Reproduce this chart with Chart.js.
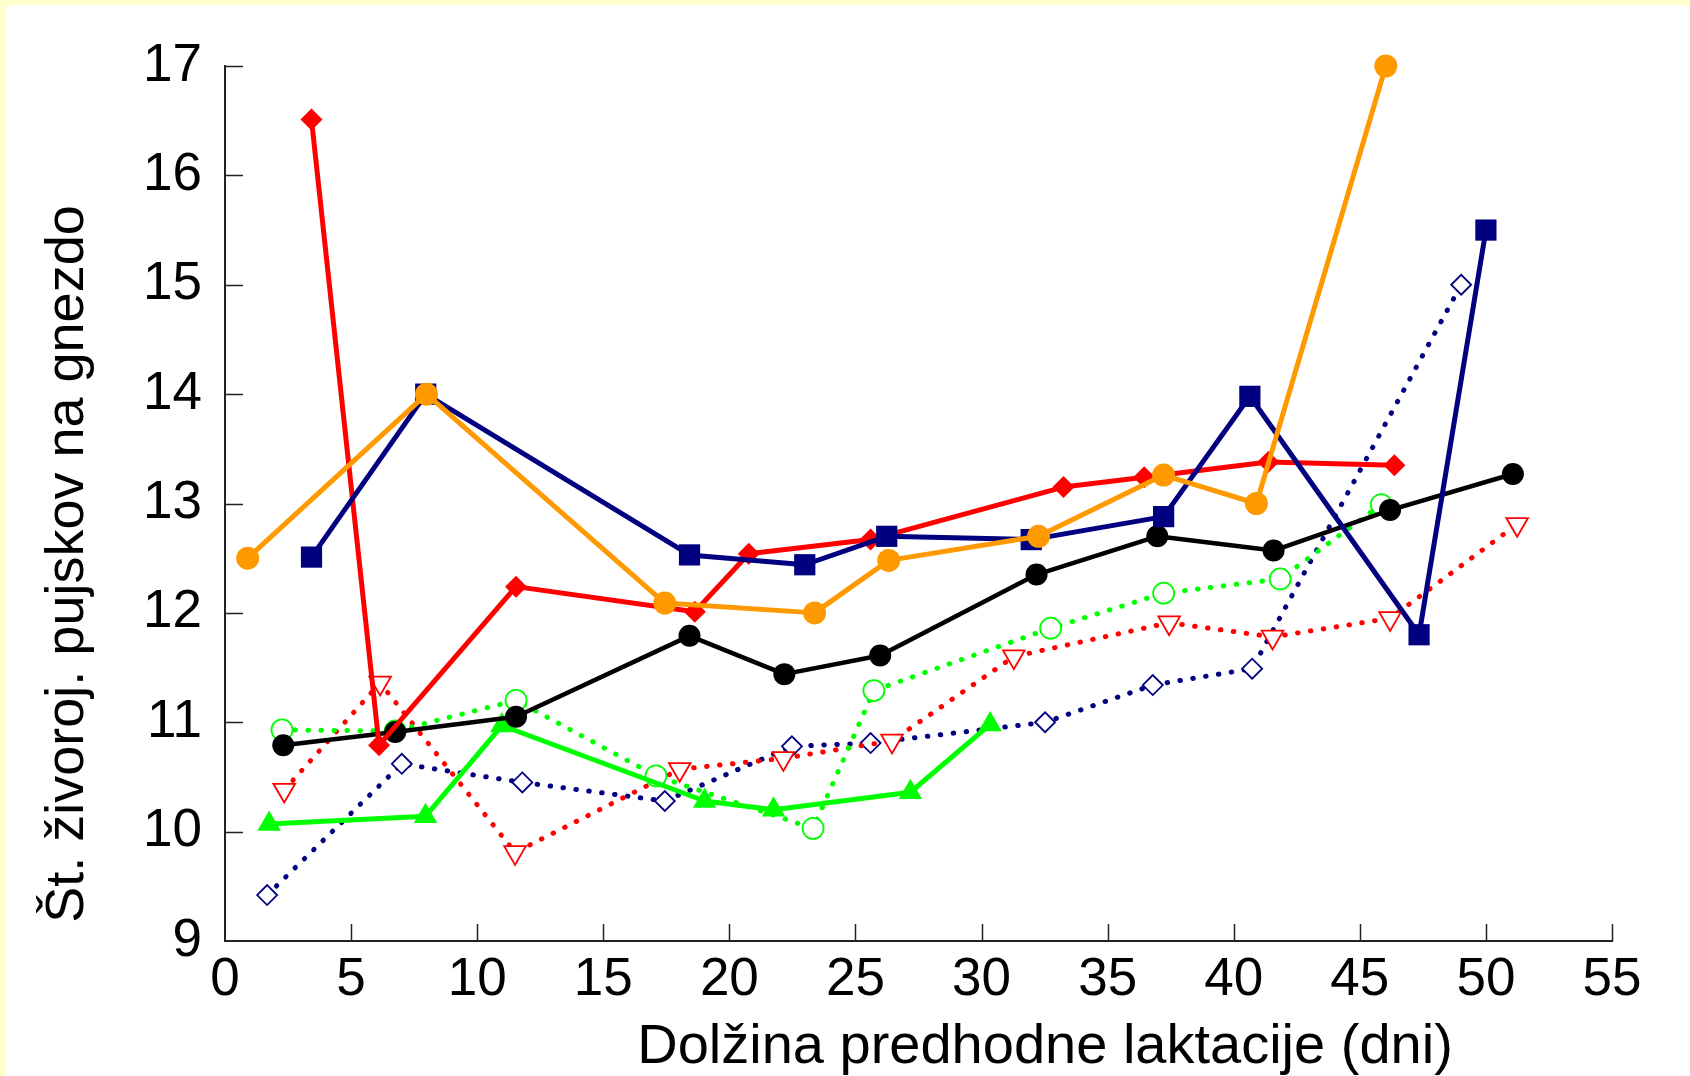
<!DOCTYPE html>
<html>
<head>
<meta charset="utf-8">
<script src="https://cdn.jsdelivr.net/npm/chart.js@4.4.1/dist/chart.umd.min.js"></script>
<style>
  html, body { margin: 0; padding: 0; background: #ffffcc; overflow: hidden; }
  #wrap { position: absolute; left: 6px; top: 5px; width: 1684px; height: 1071px; background: #fff; }
</style>
</head>
<body>
<div id="wrap"><canvas id="chart"></canvas></div>
<script>
// axis setup
const xTickValues = [0, 5, 10, 15, 20, 25, 30, 35, 40, 45, 50, 55];
const yTickValues = [9, 10, 11, 12, 13, 14, 15, 16, 17];
const xTitle = 'Dolžina predhodne laktacije (dni)';
const yTitle = 'Št. živoroj. pujskov na gnezdo';

// solid series
const orangeX = [0.9, 7.99, 17.44, 23.38, 26.32, 32.26, 37.22, 40.9, 46.03];
const orangeY = [12.5, 14.0, 12.09, 12.0, 12.48, 12.7, 13.26, 13.0, 17.0];

const navyX = [3.43, 7.96, 18.42, 22.99, 26.24, 31.97, 37.22, 40.64, 47.35, 50.0];
const navyY = [12.51, 14.0, 12.53, 12.44, 12.7, 12.67, 12.88, 13.98, 11.8, 15.5];

const redX = [3.43, 6.11, 11.54, 18.63, 20.77, 25.6, 33.25, 36.45, 41.37, 46.37];
const redY = [16.51, 10.79, 12.24, 12.01, 12.54, 12.67, 13.15, 13.24, 13.38, 13.35];

const blackX = [2.31, 6.75, 11.54, 18.42, 22.18, 25.98, 32.18, 36.97, 41.58, 46.2, 51.07];
const blackY = [10.79, 10.91, 11.05, 11.79, 11.44, 11.61, 12.35, 12.7, 12.57, 12.94, 13.27];

const greenX = [1.75, 7.95, 10.98, 19.02, 21.75, 27.18, 30.34];
const greenY = [10.07, 10.14, 10.97, 10.28, 10.2, 10.36, 10.98];

// dotted series
const greenDotX = [2.26, 6.75, 11.54, 17.09, 23.32, 25.73, 32.74, 37.22, 41.84, 45.85];
const greenDotY = [10.93, 10.92, 11.2, 10.51, 10.03, 11.29, 11.86, 12.18, 12.31, 12.99];

const redDotX = [2.35, 6.15, 11.5, 18.03, 22.14, 26.45, 31.28, 37.44, 41.54, 46.2, 51.24];
const redDotY = [10.38, 11.36, 9.81, 10.57, 10.67, 10.83, 11.6, 11.91, 11.78, 11.95, 12.81];

const navyDotX = [1.67, 7.01, 11.79, 17.44, 22.48, 25.6, 32.52, 36.79, 40.73, 49.02];
const navyDotY = [9.42, 10.62, 10.45, 10.28, 10.78, 10.81, 11.0, 11.34, 11.49, 15.0];

const FONT = '"Liberation Sans", Arial, sans-serif';
const ORANGE = '#ff9900';
const NAVY = '#000080';
const RED = '#ff0000';
const GREEN = '#00ff00';

function pts(xs, ys) {
  return xs.map((x, i) => ({ x: x, y: ys[i] }));
}

function solid(xs, ys, color, style, radius, width) {
  return {
    data: pts(xs, ys),
    showLine: true,
    borderColor: color,
    backgroundColor: color,
    borderWidth: width,
    borderJoinStyle: 'round',
    pointStyle: style,
    pointRadius: radius,
    pointBackgroundColor: color,
    pointBorderColor: color,
    pointBorderWidth: 0,
    clip: false,
  };
}

function dotted(xs, ys, color, style, radius, rotation) {
  return {
    data: pts(xs, ys),
    showLine: true,
    borderColor: color,
    borderWidth: 5,
    borderDash: [0.5, 12.5],
    borderCapStyle: 'round',
    pointStyle: style,
    pointRadius: radius,
    pointRotation: rotation || 0,
    pointBackgroundColor: '#ffffff',
    pointBorderColor: color,
    pointBorderWidth: 1.8,
    clip: false,
  };
}

// inner tick marks and axis titles
const decorations = {
  id: 'decorations',
  beforeDatasetsDraw(chart) {
    const { ctx, chartArea, scales } = chart;
    ctx.save();
    ctx.strokeStyle = '#222';
    ctx.lineWidth = 1.5;
    ctx.beginPath();
    xTickValues.slice(1).forEach(v => {
      const px = Math.round(scales.x.getPixelForValue(v)) + 0.5;
      ctx.moveTo(px, chartArea.bottom);
      ctx.lineTo(px, chartArea.bottom - 17);
    });
    yTickValues.slice(1).forEach(v => {
      const py = Math.round(scales.y.getPixelForValue(v)) + 0.5;
      ctx.moveTo(chartArea.left, py);
      ctx.lineTo(chartArea.left + 18, py);
    });
    ctx.stroke();
    ctx.restore();
  },
  afterDraw(chart) {
    const { ctx, chartArea } = chart;
    ctx.save();
    ctx.fillStyle = '#000';
    ctx.textAlign = 'center';
    ctx.textBaseline = 'alphabetic';
    ctx.font = '56px ' + FONT;
    ctx.fillText(xTitle, chartArea.left + 820, chartArea.bottom + 122);
    ctx.translate(chartArea.left - 142, chartArea.top + 498);
    ctx.rotate(-Math.PI / 2);
    ctx.font = '54px ' + FONT;
    ctx.fillText(yTitle, 0, 0);
    ctx.restore();
  }
};

new Chart(document.getElementById('chart'), {
  type: 'scatter',
  data: {
    datasets: [
      solid(orangeX, orangeY, ORANGE, 'circle', 11.5, 5),
      solid(navyX, navyY, NAVY, 'rect', 15, 5),
      solid(redX, redY, RED, 'rectRot', 11, 5),
      solid(blackX, blackY, '#000000', 'circle', 11, 4.5),
      solid(greenX, greenY, GREEN, 'triangle', 13.5, 5),
      dotted(greenDotX, greenDotY, GREEN, 'circle', 10.5),
      dotted(redDotX, redDotY, RED, 'triangle', 12.5, 180),
      dotted(navyDotX, navyDotY, NAVY, 'rectRot', 10),
    ],
  },
  options: {
    responsive: true,
    maintainAspectRatio: false,
    animation: false,
    events: [],
    layout: { padding: { top: 61, right: 78, bottom: 0, left: 0 } },
    plugins: {
      legend: { display: false },
      tooltip: { enabled: false },
    },
    scales: {
      x: {
        type: 'linear',
        min: 0,
        max: 55,
        afterBuildTicks: s => { s.ticks = xTickValues.map(v => ({ value: v })); },
        afterFit: s => { s.height = 135; },
        grid: { display: false },
        border: { display: true, color: '#222', width: 2 },
        ticks: {
          color: '#000',
          padding: 0,
          maxRotation: 0,
          font: { family: FONT, size: 53, lineHeight: 1.2 },
        },
      },
      y: {
        type: 'linear',
        min: 9,
        max: 17,
        afterBuildTicks: s => { s.ticks = yTickValues.map(v => ({ value: v })); },
        afterFit: s => { s.width = 219; },
        grid: { display: false },
        border: { display: true, color: '#222', width: 2 },
        ticks: {
          color: '#000',
          padding: 15,
          font: { family: FONT, size: 53, lineHeight: 1.2 },
        },
      },
    },
  },
  plugins: [decorations],
});
</script>
</body>
</html>
